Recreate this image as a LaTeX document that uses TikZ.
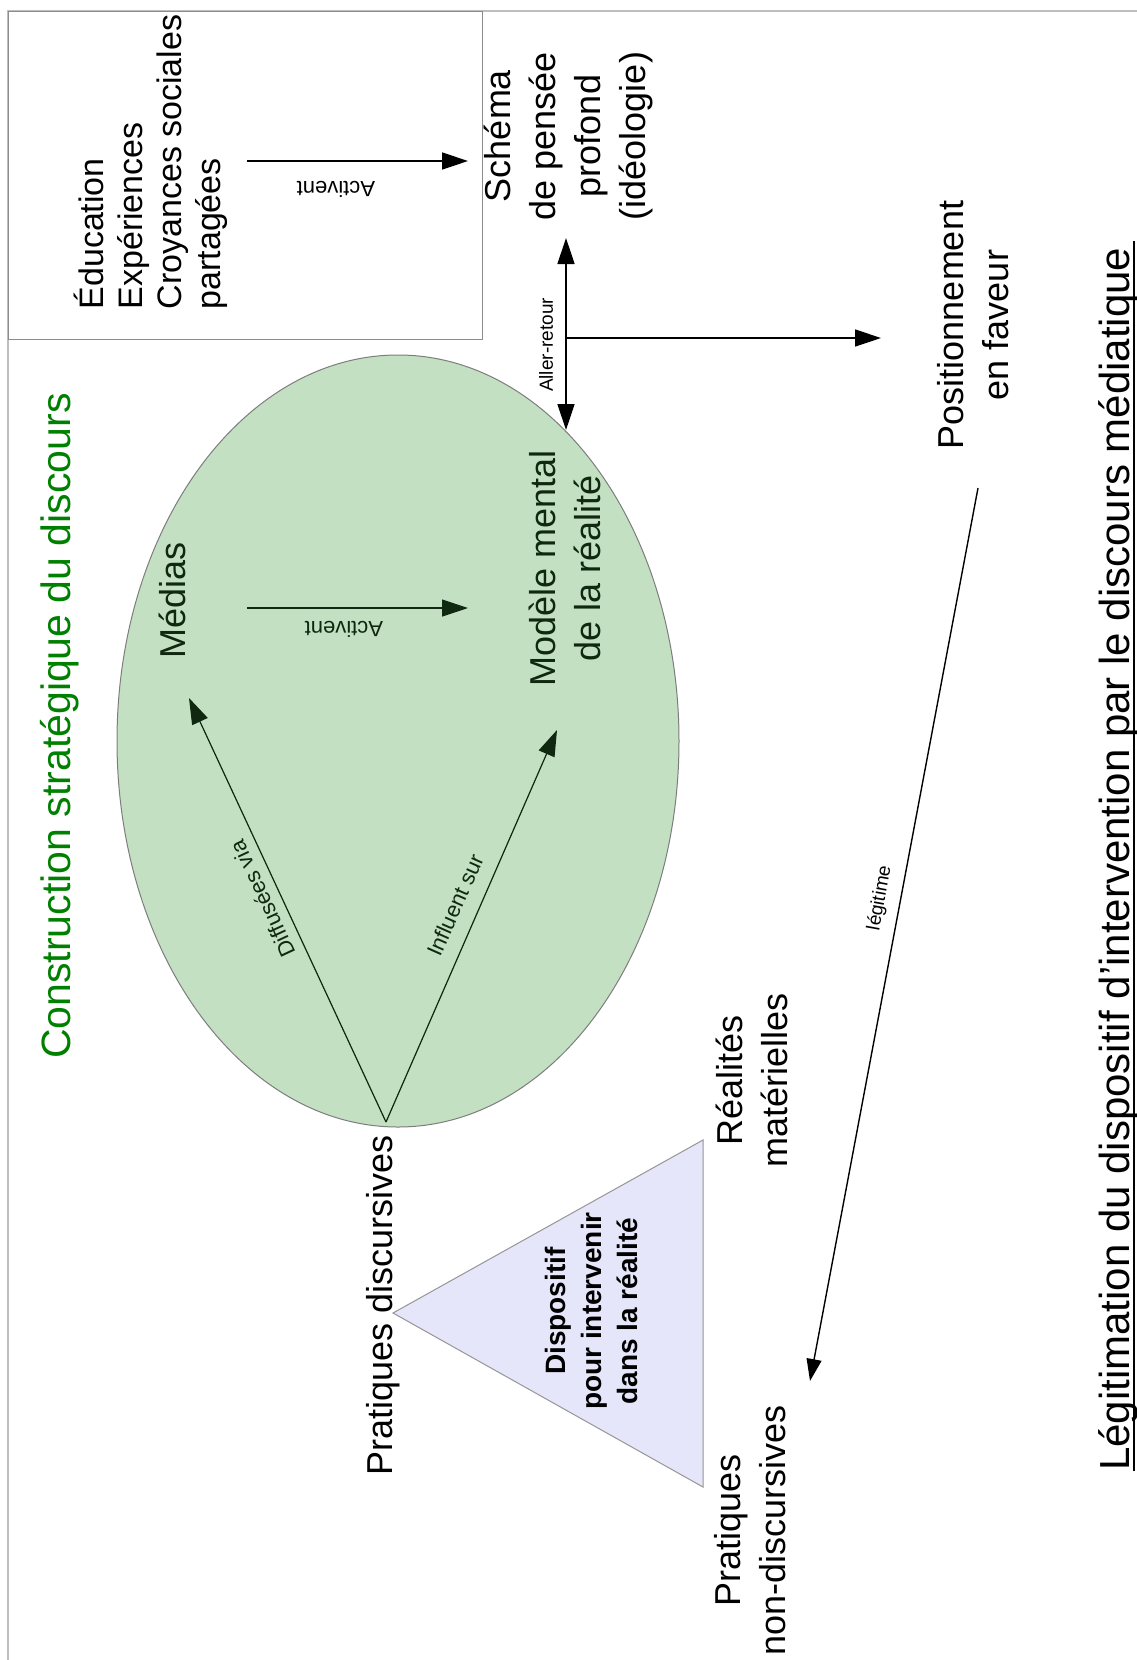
\documentclass[tikz,border=0pt]{standalone}
\usepackage{fontspec}
\setmainfont{Liberation Sans}
\usetikzlibrary{arrows.meta,shapes.geometric}
\definecolor{framegray}{RGB}{190,190,190}
\definecolor{boxgray}{RGB}{140,140,140}
\definecolor{ellfill}{RGB}{195,224,195}
\definecolor{ellline}{RGB}{125,125,125}
\definecolor{trifill}{RGB}{230,230,250}
\definecolor{triline}{RGB}{150,150,150}
\definecolor{titlegreen}{RGB}{0,128,0}
\definecolor{dkgreen}{RGB}{15,40,15}
\begin{document}
\begin{tikzpicture}[x=1pt,y=-1pt,
  lbl/.style={rotate=90, align=center, inner sep=0pt, font=\fontsize{36}{45}\selectfont},
  small/.style={inner sep=0pt, font=\fontsize{22}{26}\selectfont},
  arr/.style={line width=1.4pt, -{Triangle[length=26pt,width=17pt]}},
  darr/.style={line width=1.4pt, {Triangle[length=26pt,width=17pt]}-{Triangle[length=26pt,width=17pt]}},
  garr/.style={arr, draw=dkgreen, fill=dkgreen, line width=1.2pt},
]
\useasboundingbox (0,0) rectangle (1136,1660);
\fill[white] (0,0) rectangle (1136,1660);

% outer frame
\coordinate (f1) at (8,1700);
\coordinate (f2) at (8,11);
\coordinate (f3) at (1160,11);
\draw[framegray, line width=1.5pt] (f1) -- (f2) -- (f3);

% top-left box
\node[draw=boxgray, line width=1pt, minimum width=474pt, minimum height=328pt,
      anchor=north west, inner sep=0pt] (box) at (8,11) {};
\node[rotate=90, align=left, inner sep=0pt, font=\fontsize{34}{39}\selectfont]
  (boxtxt) at (151,162) {Éducation\\Expériences\\Croyances sociales\\partagées};

% ellipse
\node[ellipse, draw=ellline, fill=ellfill, line width=1pt, minimum width=562pt,
      minimum height=772pt, inner sep=0pt] (ell) at (398,741) {};

% triangle
\coordinate (ta) at (393,1313);
\coordinate (tb) at (703,1140);
\coordinate (tc) at (703,1487);
\draw[draw=triline, fill=trifill, line width=1pt] (ta) -- (tb) -- (tc) -- cycle;
\node[rotate=90, align=center, inner sep=0pt, font=\fontsize{28}{36}\selectfont\bfseries]
  (dispo) at (591,1311) {Dispositif\\pour intervenir\\dans la réalité};

% titles
\node[rotate=90, anchor=base west, inner sep=0pt, text=titlegreen,
      font=\fontsize{41}{46}\selectfont] (construct) at (70,1059)
  {Construction stratégique du discours};
\node[rotate=90, anchor=base west, inner sep=0pt,
      font=\fontsize{42}{46}\selectfont] (legit) at (1129,1471)
  {Légitimation du dispositif d'intervention par le discours médiatique};
\coordinate (ul1) at (1134,1471);
\coordinate (ul2) at (1134,241);
\draw[line width=1.2pt] (ul1) -- (ul2);

% labels
\node[lbl] (schema) at (568,136) {Schéma\\de pensée\\profond\\(idéologie)};
\node[lbl, text=dkgreen] (medias) at (172,600) {Médias};
\node[lbl, text=dkgreen] (modele) at (565,568) {Modèle mental\\de la réalité};
\node[lbl] (posit) at (973,325) {Positionnement\\en faveur};
\node[lbl] (realites) at (752,1080) {Réalités\\matérielles};
\node[lbl] (pratnd) at (750,1530) {Pratiques\\non-discursives};
\node[lbl] (pratd) at (383,1305) {Pratiques discursives};

% connectors: top Activent
\coordinate (a1s) at (247,161);
\coordinate (a1e) at (468,161);
\draw[arr] (a1s) -- (a1e);
\node[small, rotate=180] (act1) at (336,189) {Activent};

% Médias -> Modèle
\coordinate (a2s) at (247,608);
\coordinate (a2e) at (468,608);
\draw[garr] (a2s) -- (a2e);
\node[small, rotate=180, text=dkgreen] (act2) at (344,629) {Activent};

% Aller-retour
\coordinate (arb) at (566,430);
\coordinate (art) at (566,238);
\coordinate (arm) at (566,338);
\coordinate (arp) at (881,338);
\draw[darr] (arb) -- (art);
\draw[arr] (arm) -- (arp);
\node[inner sep=0pt, rotate=90, font=\fontsize{19}{22}\selectfont] (ar) at (546,345) {Aller-retour};

% Pratiques discursives -> Médias / Modèle
\coordinate (apex) at (386,1122);
\coordinate (tipm) at (189,698);
\coordinate (tipmod) at (557,730);
\draw[garr] (apex) -- (tipm);
\draw[garr] (apex) -- (tipmod);
\node[small, rotate=115, text=dkgreen] (diff) at (262,899) {Diffusées via};
\node[small, rotate=66, text=dkgreen] (infl) at (455,905) {Influent sur};

% légitime
\coordinate (lgs) at (978,488);
\coordinate (lge) at (810,1381);
\draw[line width=1.4pt, -{Triangle[length=22pt,width=15pt]}] (lgs) -- (lge);
\node[inner sep=0pt, rotate=79.7, font=\fontsize{19}{22}\selectfont] (lg) at (880,898) {légitime};
\end{tikzpicture}
\end{document}
